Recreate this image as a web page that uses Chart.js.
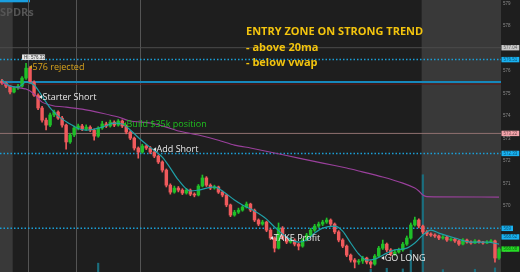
<!DOCTYPE html>
<html>
<head>
<meta charset="utf-8">
<script src="https://cdn.jsdelivr.net/npm/chart.js@4.4.1/dist/chart.umd.min.js"></script>
<style>
  html, body { margin: 0; padding: 0; background: #1e1e1e; }
  #wrap { width: 520px; height: 272px; }
</style>
</head>
<body>
<div id="wrap"><canvas id="spy" width="520" height="272"></canvas></div>
<script>
// SPY intraday candles, one slot per bar
const opens = [575.55,575.46,575.32,575.06,575.24,575.32,575.68,576.12,575.50,574.92,
  574.35,573.81,573.59,574.04,574.17,573.90,573.59,572.84,573.15,573.46,
  573.55,573.41,573.50,573.37,573.10,573.46,573.64,573.55,573.72,573.59,
  573.77,573.55,573.28,573.01,572.57,572.39,572.66,572.57,572.39,572.21,
  571.95,571.59,570.92,570.61,570.79,570.70,570.57,570.70,570.52,570.48,
  570.88,571.24,570.92,570.79,570.84,570.61,570.48,570.04,569.59,569.72,
  569.81,569.95,570.08,569.81,569.37,569.19,569.28,568.92,568.57,568.12,
  569.01,568.57,568.39,568.48,568.30,568.21,568.48,568.70,568.92,569.10,
  569.19,569.28,569.37,569.19,568.84,568.48,568.21,567.81,567.59,567.50,
  567.55,567.68,567.50,567.41,567.77,568.12,568.30,568.04,567.86,567.95,
  568.04,568.30,568.57,569.15,569.37,569.10,568.84,568.75,568.70,568.66,
  568.57,568.61,568.48,568.52,568.44,568.30,568.48,568.39,568.35,568.44,
  568.39,568.35,568.39,568.44,567.68];
const closes = [575.46,575.32,575.06,575.24,575.32,575.68,576.12,575.50,574.92,574.35,
  573.81,573.59,574.04,574.17,573.90,573.59,572.84,573.15,573.46,573.55,
  573.41,573.50,573.37,573.10,573.46,573.64,573.55,573.72,573.59,573.77,
  573.55,573.28,573.01,572.57,572.39,572.66,572.57,572.39,572.21,571.95,
  571.59,570.92,570.61,570.79,570.70,570.57,570.70,570.52,570.48,570.88,
  571.24,570.92,570.79,570.84,570.61,570.48,570.04,569.59,569.72,569.81,
  569.95,570.08,569.81,569.37,569.19,569.28,568.92,568.57,568.12,569.01,
  568.57,568.39,568.48,568.30,568.21,568.48,568.70,568.92,569.10,569.19,
  569.28,569.37,569.19,568.84,568.48,568.21,567.81,567.59,567.50,567.55,
  567.68,567.50,567.41,567.77,568.12,568.30,568.04,567.86,567.95,568.04,
  568.30,568.57,569.15,569.37,569.10,568.84,568.75,568.70,568.66,568.57,
  568.61,568.48,568.52,568.44,568.30,568.48,568.39,568.35,568.44,568.39,
  568.35,568.39,568.44,567.68,568.08];
const highs = [575.62,575.50,575.36,575.30,575.40,575.75,576.33,576.18,575.56,574.98,
  574.42,573.90,574.12,574.26,574.22,573.98,573.64,573.22,573.55,573.64,
  573.62,573.60,573.56,573.42,573.52,573.76,573.72,573.81,573.78,573.84,
  573.82,573.60,573.34,573.06,572.62,572.74,572.72,572.64,572.45,572.26,
  572.00,571.64,570.98,570.88,570.86,570.76,570.78,570.75,570.58,570.95,
  571.37,571.30,570.98,570.92,570.88,570.66,570.52,570.08,569.80,569.90,
  570.02,570.17,570.12,569.86,569.42,569.36,569.32,568.98,568.62,569.24,
  569.08,568.64,568.56,568.54,568.36,568.55,568.78,569.00,569.18,569.28,
  569.36,569.46,569.42,569.24,568.90,568.54,568.26,567.86,567.66,567.62,
  567.76,567.72,567.56,567.84,568.20,568.48,568.35,568.10,568.04,568.12,
  568.38,568.66,569.24,569.50,569.42,569.14,568.90,568.80,568.76,568.70,
  568.68,568.65,568.58,568.56,568.48,568.54,568.52,568.44,568.50,568.48,
  568.42,568.46,568.50,568.48,568.14];
const lows = [575.40,575.25,574.98,575.02,575.18,575.28,575.62,575.44,574.86,574.28,
  573.72,573.37,573.52,573.96,573.84,573.50,572.52,572.78,573.08,573.38,
  573.34,573.35,573.30,572.92,573.05,573.40,573.48,573.50,573.52,573.54,
  573.48,573.20,572.94,572.48,572.12,572.34,572.50,572.32,572.14,571.88,
  571.50,570.84,570.52,570.56,570.62,570.50,570.52,570.45,570.40,570.44,
  570.84,570.86,570.72,570.74,570.55,570.40,569.96,569.52,569.54,569.66,
  569.76,569.90,569.74,569.30,569.12,569.14,568.85,568.50,567.95,568.08,
  568.50,568.32,568.34,568.22,568.04,568.16,568.44,568.65,568.86,569.04,
  569.12,569.22,569.12,568.76,568.40,568.14,567.74,567.50,567.24,567.40,
  567.44,567.42,567.24,567.36,567.72,568.06,567.96,567.78,567.80,567.90,
  567.98,568.24,568.52,569.10,569.02,568.76,568.68,568.64,568.60,568.50,
  568.52,568.42,568.44,568.38,568.24,568.26,568.34,568.30,568.32,568.34,
  568.30,568.32,568.36,567.50,567.62];

// 20 period moving average, read at selected bars
const maSlots = [0,2,4,6,8,10,12,14,17,19,21,25,28,30,32,35,38,40,42,44,47,49,53,55,58,
  60,63,66,68,71,74,76,78,80,83,85,87,89,91,93,96,98,101,103,105,107,109,113,117,121,124];
const maValues = [575.59,575.32,575.28,575.50,575.37,574.88,574.35,573.99,573.64,573.44,
  573.37,573.50,573.68,573.64,573.37,572.88,572.46,572.17,571.68,571.15,
  570.66,570.70,570.84,570.66,570.26,570.04,569.77,569.41,569.06,568.61,
  568.39,568.48,568.79,569.01,569.10,568.88,568.35,567.86,567.59,567.63,
  567.90,568.04,568.12,568.35,568.70,568.92,568.79,568.57,568.39,568.39,568.30];

// VWAP
const vwapSlots = [0,3,6,8,10,13,16,20,25,29,32,37,41,44,49,54,58,62,68,74,80,86,89,95,100,103,104,105,106,124];
const vwapValues = [575.46,575.28,575.19,574.97,574.61,574.44,574.39,574.30,574.12,573.95,
  573.77,573.68,573.50,573.33,573.15,572.92,572.70,572.57,572.35,572.12,
  571.90,571.68,571.55,571.28,571.01,570.79,570.66,570.48,570.41,570.39];

// volume (k shares), only the visible bars
const volSlots = [24,92,96,100,102,105,110,118,123];
const volValues = [130,40,55,45,320,1430,35,40,60];

// price levels drawn across the chart
const levelPrices = [577.03, 576.50, 575.50, 575.41, 573.22, 572.33, 569.00];
const priceTicks = [579,578,577,576,575,574,573,572,571,570,569,568];
const boxPrices = [577.03, 576.50, 573.22, 572.33, 569.00, 568.62, 568.08];
const boxLabels = ['577.04','576.51','573.22','572.33','569','568.62','568.08'];

// notes on the chart
const noteTexts = ['576 rejected','Starter Short','Build $35k position','Add Short','TAKE Profit','GO LONG'];
const noteSlots = [6.74, 9.23, 30.2, 37.7, 66.9, 94.6];
const notePrices = [576.17, 574.84, 573.64, 572.52, 568.57, 567.68];

const timeLines = [6.49, 18.46, 34.43];
const preMarketEnd = 2.67;
const afterHoursStart = 104.7;

const upColor = '#1fbf28';
const downColor = '#ef5a5c';

const levelStyles = [
  { color: '#4c4c4c', width: 1, dash: [] },
  { color: '#1a9fd8', width: 1.5, dash: [1.5, 2] },
  { color: '#1688bb', width: 2, dash: [] },
  { color: '#5e1a1a', width: 1, dash: [] },
  { color: '#8f716f', width: 1, dash: [] },
  { color: '#1a9fd8', width: 1.5, dash: [1.5, 2] },
  { color: '#1a9fd8', width: 1.5, dash: [1.5, 2] }
];
const boxColors = ['#c9c9c9','#19b2f2','#f3a3aa','#19b2f2','#19b2f2','#19b2f2','#25dc25'];
const noteColors = ['#d9a31c','#e8e8e8','#1fc01f','#e8e8e8','#e8e8e8','#e8e8e8'];
const noteFont = '9px "Open Sans", "DejaVu Sans", sans-serif';
const headFont = 'bold 11px "Open Sans", "DejaVu Sans", sans-serif';

function candleColor(i) {
  return closes[i] >= opens[i] ? upColor : downColor;
}

const overlay = {
  id: 'overlay',
  beforeDatasetsDraw(chart) {
    const { ctx, chartArea: a, scales: { x, y } } = chart;
    ctx.save();

    // pre market / after hours shading
    ctx.fillStyle = '#393939';
    const pm = x.getPixelForValue(preMarketEnd);
    ctx.fillRect(a.left, a.top, pm - a.left, a.height);
    const ah = x.getPixelForValue(afterHoursStart);
    ctx.fillRect(ah, a.top, a.right - ah, a.height);

    // watermark + top tab
    ctx.fillStyle = '#555';
    ctx.font = 'bold 11px "Open Sans", sans-serif';
    ctx.textBaseline = 'alphabetic';
    ctx.fillText('SPDRs', 0, 15.5);
    ctx.fillStyle = '#1a9fe0';
    ctx.fillRect(0, 0, 30, 2.3);

    // time grid
    ctx.strokeStyle = '#545454';
    ctx.lineWidth = 1;
    timeLines.forEach(v => {
      const px = Math.round(x.getPixelForValue(v)) + 0.5;
      ctx.beginPath(); ctx.moveTo(px, a.top); ctx.lineTo(px, a.bottom); ctx.stroke();
    });

    // price levels
    levelPrices.forEach((p, i) => {
      const s = levelStyles[i];
      const py = y.getPixelForValue(p);
      ctx.strokeStyle = s.color;
      ctx.lineWidth = s.width;
      ctx.setLineDash(s.dash);
      ctx.beginPath(); ctx.moveTo(a.left, py); ctx.lineTo(a.right, py); ctx.stroke();
    });
    ctx.setLineDash([]);
    ctx.restore();
  },
  afterDatasetsDraw(chart) {
    const { ctx, chartArea: a, scales: { x, y } } = chart;
    ctx.save();

    // notes
    ctx.font = noteFont;
    ctx.textBaseline = 'middle';
    noteTexts.forEach((t, i) => {
      const px = x.getPixelForValue(noteSlots[i]);
      const py = y.getPixelForValue(notePrices[i]);
      ctx.fillStyle = noteColors[i];
      ctx.beginPath();
      ctx.moveTo(px, py); ctx.lineTo(px + 3, py - 2); ctx.lineTo(px + 3, py + 2); ctx.closePath();
      ctx.fill();
      ctx.fillText(t, px + 3.5, py + 0.5);
    });

    // high bubble
    const hx = x.getPixelForValue(6) - 2;
    const hy = y.getPixelForValue(576.33) - 9;
    ctx.fillStyle = '#e6e6e6';
    ctx.fillRect(hx - 2, hy, 23, 5.5);
    ctx.fillStyle = '#333';
    ctx.font = '4.5px "Liberation Sans", sans-serif';
    ctx.fillText('HI: 576.33', hx, hy + 3);

    // headline
    ctx.fillStyle = '#f3c40e';
    ctx.font = headFont;
    ctx.fillText('ENTRY ZONE ON STRONG TREND', 246, 32);
    ctx.fillText('- above 20ma', 246, 47.5);
    ctx.fillText('- below vwap', 246, 62.5);

    // price axis
    ctx.font = '4.5px "Liberation Sans", sans-serif';
    ctx.fillStyle = '#8c8c8c';
    priceTicks.forEach(p => {
      ctx.fillText(String(p), a.right + 2, y.getPixelForValue(p));
    });
    boxPrices.forEach((p, i) => {
      const py = y.getPixelForValue(p);
      const w = ctx.measureText(boxLabels[i]).width + 4;
      ctx.fillStyle = boxColors[i];
      ctx.fillRect(a.right + 0.5, py - 2.7, w, 5.4);
      ctx.fillStyle = 'rgba(0,0,0,0.55)';
      ctx.fillText(boxLabels[i], a.right + 2.5, py + 0.2);
    });
    ctx.restore();
  }
};

new Chart(document.getElementById('spy'), {
  type: 'bar',
  data: {
    datasets: [
      {
        type: 'line',
        label: '20MA',
        data: maSlots.map((s, i) => ({ x: s, y: maValues[i] })),
        borderColor: '#1fa0a8',
        borderWidth: 1.2,
        pointRadius: 0,
        cubicInterpolationMode: 'monotone',
        order: 0
      },
      {
        type: 'line',
        label: 'VWAP',
        data: vwapSlots.map((s, i) => ({ x: s, y: vwapValues[i] })),
        borderColor: '#9a409c',
        borderWidth: 1.1,
        pointRadius: 0,
        tension: 0.2,
        order: 0
      },
      {
        label: 'body',
        data: opens.map((o, i) => ({ x: i, y: [o, closes[i]] })),
        backgroundColor: c => candleColor(c.dataIndex),
        barThickness: 2.8,
        minBarLength: 1,
        grouped: false,
        order: 1
      },
      {
        label: 'wick',
        data: lows.map((l, i) => ({ x: i, y: [l, highs[i]] })),
        backgroundColor: c => candleColor(c.dataIndex),
        barThickness: 1,
        grouped: false,
        order: 2
      },
      {
        label: 'volume',
        yAxisID: 'yv',
        data: volSlots.map((s, i) => ({ x: s, y: volValues[i] })),
        backgroundColor: '#1b6e7e',
        barThickness: 1.5,
        grouped: false,
        order: 3
      }
    ]
  },
  options: {
    responsive: false,
    animation: false,
    events: [],
    layout: { padding: { left: 0, right: 19, top: 0, bottom: 0 } },
    plugins: { legend: { display: false }, tooltip: { enabled: false } },
    scales: {
      x: { type: 'linear', min: -0.5, max: 124.5, offset: false, display: false },
      y: { min: 567.06, max: 579.15, display: false },
      yv: { min: 0, max: 4000, display: false }
    }
  },
  plugins: [overlay]
});
</script>
</body>
</html>
